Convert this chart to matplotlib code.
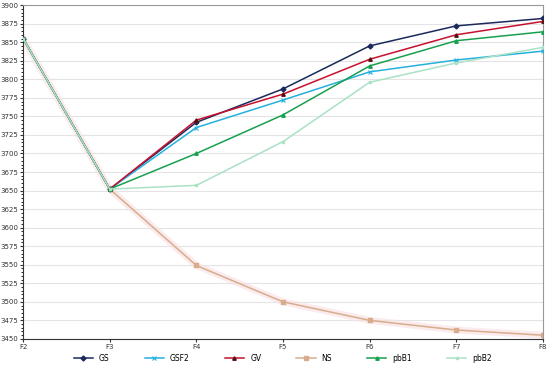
import matplotlib
matplotlib.use('Agg')
import matplotlib.pyplot as plt
from matplotlib.ticker import MultipleLocator

# categories on the x axis
frames = ['F2', 'F3', 'F4', 'F5', 'F6', 'F7', 'F8']

# series values
gs = [3855, 3652, 3742, 3787, 3845, 3872, 3882]
gsf2 = [3855, 3652, 3735, 3772, 3810, 3826, 3838]
gv = [3855, 3652, 3745, 3780, 3827, 3860, 3878]
ns = [3855, 3652, 3549, 3500, 3475, 3462, 3455]
pbb1 = [3855, 3652, 3700, 3752, 3818, 3852, 3864]
pbb2 = [3855, 3652, 3657, 3716, 3796, 3822, 3843]

fig = plt.figure(figsize=(5.5, 3.66), dpi=100)
ax = fig.add_axes([0.042, 0.074, 0.945, 0.912])
x = list(range(len(frames)))

# soft pink glow under NS
ax.plot(x, ns, color='#f9dfe2', lw=5, alpha=0.6, zorder=1)

ax.plot(x, gs, color='#1b2a5c', lw=1.1, marker='D', ms=2.5, label='GS', zorder=3)
ax.plot(x, gsf2, color='#25b0de', lw=1.1, marker='x', ms=3, mew=0.8, label='GSF2', zorder=3)
ax.plot(x, gv, color='#c8102e', lw=1.1, marker='^', ms=2.5, mfc='#5a1010', mec='#5a1010', label='GV', zorder=3)
ax.plot(x, ns, color='#d8ac8c', lw=1.1, marker='s', ms=2.5, label='NS', zorder=2)
ax.plot(x, pbb1, color='#17a04e', lw=1.1, marker='^', ms=2.5, label='pbB1', zorder=3)
ax.plot(x, pbb2, color='#a9e2c4', lw=1.1, marker='s', ms=2, label='pbB2', zorder=3)

ax.set_xlim(0, len(frames) - 1)
ax.set_ylim(3450, 3900)
ax.set_xticks(x)
ax.set_xticklabels(frames)
ax.yaxis.set_major_locator(MultipleLocator(25))
ax.yaxis.set_minor_locator(MultipleLocator(5))
ax.tick_params(axis='both', labelsize=5, colors='#333333', length=2, pad=1.5)
ax.tick_params(axis='y', which='minor', length=1.5)
ax.grid(axis='y', color='#e4e4e4', lw=0.8)
ax.set_axisbelow(True)
for s in ['top', 'right']:
    ax.spines[s].set_color('#999999')
ax.spines['left'].set_color('#333333')
ax.spines['bottom'].set_color('#333333')

ax.legend(loc='upper center', bbox_to_anchor=(0.5, -0.035), ncol=6, frameon=False,
          fontsize=5.5, handlelength=2.5, columnspacing=4.6, borderaxespad=0)

fig.savefig('out.png', dpi=100)
